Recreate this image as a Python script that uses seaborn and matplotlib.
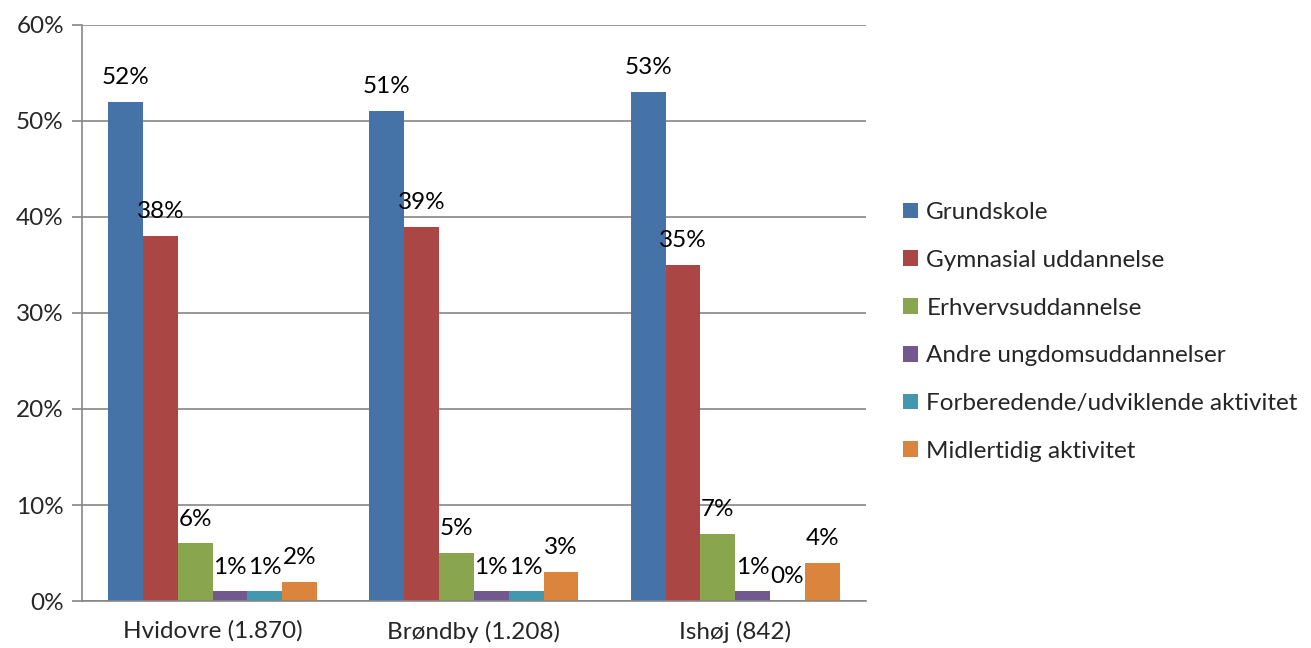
import pandas as pd
import matplotlib.pyplot as plt
import seaborn as sns

kommuner = ['Hvidovre (1.870)', 'Brøndby (1.208)', 'Ishøj (842)']
kategorier = ['Grundskole', 'Gymnasial uddannelse', 'Erhvervsuddannelse',
              'Andre ungdomsuddannelser', 'Forberedende/udviklende aktivitet',
              'Midlertidig aktivitet']
hvidovre = [52, 38, 6, 1, 1, 2]
brondby = [51, 39, 5, 1, 1, 3]
ishoj = [53, 35, 7, 1, 0, 4]
farver = ['#4572A7', '#AA4643', '#89A54E', '#71588F', '#4198AF', '#DB843D']

rows = []
for k, vals in zip(kommuner, [hvidovre, brondby, ishoj]):
    for kat, v in zip(kategorier, vals):
        rows.append({'Kommune': k, 'Kategori': kat, 'Andel': v})
df = pd.DataFrame(rows)

sns.set_theme(style="white")
plt.rcParams['font.family'] = ['Lato', 'DejaVu Sans']
fs = 17.5

fig = plt.figure(figsize=(13.11, 6.48), dpi=100)
ax = fig.add_axes([0.0625, 0.0725, 0.598, 0.889])
sns.barplot(ax=ax, data=df, x='Kommune', y='Andel', hue='Kategori',
            order=kommuner, hue_order=kategorier, palette=farver,
            width=0.8, saturation=1, errorbar=None, linewidth=0)

for c in ax.containers:
    ax.bar_label(c, labels=[f'{v:.0f}%' for v in c.datavalues],
                 padding=10, fontsize=fs, color='black')

ax.set_ylim(0, 60)
ax.set_xlim(-0.5, 2.5)
ax.set_yticks(range(0, 61, 10))
ax.set_yticklabels([f'{t}%' for t in range(0, 61, 10)], fontsize=fs)
ax.tick_params(axis='x', which='major', length=0, labelsize=fs, pad=14)
ax.set_xticks([-0.5, 0.5, 1.5, 2.5], minor=True)
ax.tick_params(axis='x', which='minor', length=7, color='#868686', width=1.2)
ax.tick_params(axis='y', length=7, color='#868686', width=1.2, left=True, pad=6)
ax.yaxis.grid(True, color='#868686', linewidth=1.2)
ax.set_axisbelow(True)
for s in ['top', 'right']:
    ax.spines[s].set_visible(False)
for s in ['left', 'bottom']:
    ax.spines[s].set_color('#868686')
    ax.spines[s].set_linewidth(1.2)
ax.set_xlabel('')
ax.set_ylabel('')

ax.legend(loc='center left', bbox_to_anchor=(1.047, 0.467), frameon=False,
          fontsize=fs, handlelength=0.62, handleheight=0.62,
          handletextpad=0.35, labelspacing=1.1, borderaxespad=0, borderpad=0)

fig.savefig('out.png', dpi=100)
